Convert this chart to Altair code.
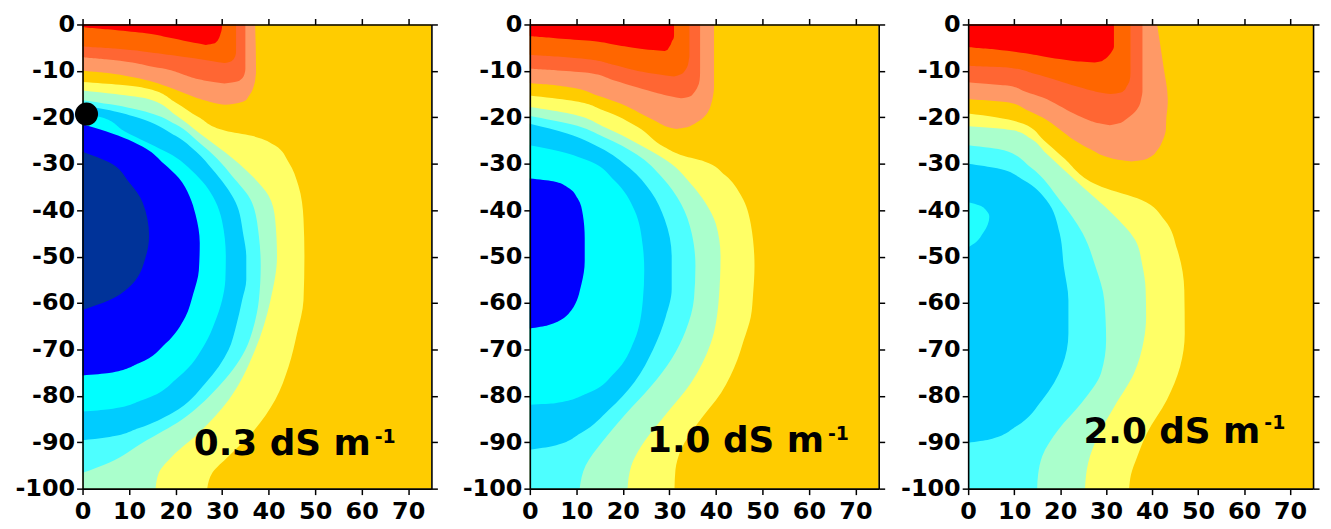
import altair as alt
import pandas as pd

# ---------------- axis ticks ----------------
X_TICKS = [0, 10, 20, 30, 40, 50, 60, 70]
Y_TICKS = [0, -10, -20, -30, -40, -50, -60, -70, -80, -90, -100]
X_DOMAIN = [0, 75]
Y_DOMAIN = [-100, 0]

# ---------------- colours of the contour classes ----------------
COLORS = {
    "red": "#FF0000", "orange": "#FF6600", "tomato": "#FF6633", "salmon": "#FF9966",
    "gold": "#FFCC00", "yellow": "#FFFF66", "mint": "#AAFFCC", "lightcyan": "#4DFFFF",
    "sky": "#00CCFF", "cyan": "#00FFFF", "blue": "#0000FF", "navy": "#003399",
    "pocket": "#22FFFF",
}

# ---------------- panel 1 (0.3 dS m-1) ----------------
p1_salmon = dict(y=[0, -9.9, -10.4, -11.2, -12.1, -13.3, -14.6, -15.6, -16.4, -16.9, -17.3],
                 xl=[0, 0, 5, 10, 14.3, 18, 21.4, 24, 26.4, 28.3, 30.7],
                 xr=[37.1, 37.3, 37.3, 37.2, 37.1, 36.8, 36.3, 35.6, 35, 33.5, 30.7])
p1_tomato = dict(y=[0, -7.0, -7.5, -8.2, -9.0, -9.6, -10.7, -11.8, -12.3, -12.7],
                 xl=[0, 0, 5, 10.7, 14.5, 17.9, 21.5, 25, 27.5, 30.5],
                 xr=[35, 35, 35, 35, 35, 35, 34.8, 34.1, 33.2, 30.5])
p1_orange = dict(y=[0, -4.7, -5.2, -5.8, -6.6, -7.3, -7.9, -8.3],
                 xl=[0, 0, 7, 13, 19, 24, 28, 30.5],
                 xr=[33, 33, 33, 33, 32.9, 32.6, 32, 30.5])
p1_red = dict(y=[0, -0.5, -1.2, -1.9, -2.8, -3.7, -4.1, -4.4],
              xl=[0, 0, 7, 13.6, 18.5, 22.9, 25, 26.5],
              xr=[30, 30, 29.9, 29.7, 29.4, 28.8, 28.2, 26.5])
p1_yellow = dict(y=[-12.4, -13.0, -13.9, -16.8, -20.0, -22.9, -24.0, -26.1, -29.7, -34.7, -41.9, -50,
                    -59.4, -66.6, -73.7, -80.9, -88, -93, -96.6, -100],
                 x=[0, 8, 14.3, 20, 25, 30.7, 36.4, 41.4, 44.3, 46.4, 47.5, 47.7,
                    47.5, 46.1, 44.3, 41.4, 36.4, 31.4, 27.9, 26.8])
p1_mint = dict(y=[-14.2, -15.0, -16.1, -19.5, -23.3, -27.6, -32.6, -36.9, -41.9, -50, -59.4, -70.1,
                  -80.9, -88, -93, -96.6, -100],
               x=[0, 7, 14.3, 20, 25, 30.7, 36.4, 40, 41.4, 41.8, 40.4, 37.1,
                  31.4, 25, 19.3, 16.4, 15.7])
p1_lightcyan = dict(y=[-16.3, -17.2, -19, -21.5, -25.4, -29, -32.6, -38.3, -45.5, -52, -59.4, -65, -70.1,
                       -78.7, -85.1, -90.1, -94.4, -96.6],
                    x=[0, 6, 14.3, 20, 25, 29, 32.1, 36.4, 37.9, 38.3, 37.9, 36.8, 35,
                       28.6, 21.4, 12.9, 5.7, 0])
p1_sky = dict(y=[-17.5, -18.3, -19.7, -24, -27.5, -31.2, -38.3, -45.5, -50, -55, -59.4, -65, -70.1,
                 -77.3, -83.7, -87, -89, -89.6],
              x=[0, 5, 10.7, 20, 24.5, 27.9, 32.9, 34.6, 35.2, 35.2, 34.3, 33, 31.4,
                 26.4, 19.3, 12, 5, 0])
p1_cyan = dict(y=[-19, -20, -23, -25.5, -28.6, -31.5, -34.6, -38, -42.4, -50, -55, -59.4, -64, -68.7,
                  -75.9, -80.9, -82.9, -83.4],
               x=[0, 4, 9, 14, 20, 23.5, 26.4, 28.5, 30, 30.8, 30.7, 30, 28.5, 26.4,
                  20.7, 12.9, 5.7, 0])
p1_blue = dict(y=[-21.5, -23, -26.7, -30, -33.1, -37, -41, -47, -53, -58, -63, -68.7, -73, -75.1, -75.6],
               x=[0, 5, 13.6, 17.5, 20.7, 23, 24.3, 25.2, 25, 23.8, 22.1, 17.9, 12.1, 5.7, 0])
p1_navy = dict(y=[-27.4, -29.7, -34, -38.3, -45.5, -50, -55.9, -59.4, -61.5],
               x=[0, 5.7, 10, 12.9, 14.3, 13.6, 10.7, 5.7, 0])
DOT_X = [0.85]
DOT_Y = [-19.3]

# ---------------- panel 2 (1.0 dS m-1) ----------------
p2_salmon = dict(y=[0, -12.6, -13.0, -13.6, -15.3, -17.1, -19, -20.7, -21.6, -22.2, -22.5],
                 xl=[0, 0, 4.5, 8.9, 14.5, 19.6, 23.5, 26.8, 28.5, 30, 31.5],
                 xr=[39.6, 39.6, 39.6, 39.6, 39.4, 39, 38.2, 36.5, 35, 33.5, 31.5])
p2_tomato = dict(y=[0, -9.5, -9.9, -10.4, -12, -13.6, -14.8, -15.5, -15.9],
                 xl=[0, 0, 6, 12.5, 18, 23.2, 27.5, 30.5, 32.5],
                 xr=[36.6, 36.6, 36.6, 36.6, 36.5, 36, 35.2, 34.4, 32.5])
p2_orange = dict(y=[0, -6.5, -6.9, -7.5, -8.7, -10, -10.7, -11.2],
                 xl=[0, 0, 6, 12.5, 18, 23.2, 27.5, 31],
                 xr=[34.3, 34.3, 34.3, 34.2, 34, 33.3, 32.5, 31])
p2_red = dict(y=[0, -2.45, -3.0, -3.5, -4.3, -5.1, -5.5, -5.7],
              xl=[0, 0, 6, 13, 18, 23, 26.5, 29],
              xr=[31, 31, 30.9, 30.6, 30.3, 29.8, 29.5, 29])
p2_yellow = dict(y=[-15.3, -16.4, -18.6, -22.1, -26.4, -28.3, -29.5, -32.5, -37, -43, -52, -58, -63, -68,
                    -72.3, -79.4, -85.9, -91.6, -96, -100],
                 x=[0, 8.9, 16, 23.2, 28.9, 33, 37.5, 42, 45.5, 47.5, 48.3, 48, 47.5, 46,
                    44.6, 41.1, 36.1, 32.5, 31.3, 31.1])
p2_mint = dict(y=[-17.8, -19.3, -22.1, -25.7, -30, -34.3, -38.5, -43, -50, -59.4, -68.7, -77.3, -84.4,
                  -90.9, -95.1, -100],
               x=[0, 8.9, 16, 23.2, 30.4, 34.6, 37.8, 40, 41, 40.6, 38.9, 34.6, 28.9,
                  23.9, 21.8, 21])
p2_lightcyan = dict(y=[-19.7, -21.5, -24.3, -28, -33, -38.6, -45, -52, -59, -66, -72, -78, -84, -90, -95, -100],
                    x=[0, 8.9, 16, 23, 28.5, 32.5, 34.8, 35.6, 35.3, 33.5, 30.5, 26, 20.5, 15.5, 12, 10.7])
p2_sky = dict(y=[-21.4, -23.5, -26.5, -31, -36, -42, -50, -57, -63, -70, -77, -83, -88, -90.8, -91.6],
              x=[0, 8, 15, 21.5, 26, 29, 30.5, 30.5, 29.2, 26.5, 22.5, 17, 11, 5, 0])
p2_cyan = dict(y=[-26, -27.1, -29.3, -33.6, -40, -47.9, -53, -59.4, -68, -75.1, -79.4, -81.6, -81.9],
               x=[0, 5.4, 12.5, 18.2, 22.5, 24.3, 24.6, 24.3, 22.5, 18.2, 12.5, 5.4, 0])
p2_blue = dict(y=[-33.2, -33.8, -35, -37.5, -41, -46, -51, -55.9, -61.6, -64.8, -65.5],
               x=[0, 5, 8, 10.3, 11.4, 11.8, 11.8, 11.1, 8.9, 3.9, 0])

# ---------------- panel 3 (2.0 dS m-1) ----------------
p3_salmon = dict(y=[0, -2, -9.2, -16, -16.4, -16.8, -18.3, -20, -22.5, -25, -27, -28.6, -29.2, -29.5],
                 xl=[0, 0, 0, 0, 4.5, 8.9, 12.5, 16.1, 19.8, 23.2, 26.8, 30.4, 33, 35.5],
                 xr=[41.1, 41.4, 42.5, 43.4, 43.4, 43.4, 43.3, 43.1, 43, 42.3, 41.2, 39.5, 38, 35.5])
p3_tomato = dict(y=[0, -12.4, -12.8, -13.2, -14.5, -15.7, -17.5, -19.3, -20.5, -21.3, -21.7],
                 xl=[0, 0, 4.5, 8.9, 12.5, 16.1, 19.8, 23.2, 26, 28.5, 30.8],
                 xr=[37.9, 37.9, 37.9, 37.9, 37.9, 37.7, 37.2, 35.8, 34.2, 32.8, 30.8])
p3_orange = dict(y=[0, -8.9, -9.3, -10.5, -12.1, -13.3, -14.2, -14.7, -15],
                 xl=[0, 0, 8.9, 14, 19.6, 23.5, 26.8, 29, 31],
                 xr=[35.3, 35.3, 35.3, 35.3, 35.1, 34.5, 33.9, 33, 31])
p3_red = dict(y=[0, -4.8, -5.4, -6.2, -7.0, -7.6, -8.0, -8.2],
              xl=[0, 0, 6, 12.5, 17, 21, 24.5, 27.5],
              xr=[31.7, 31.7, 31.5, 31, 30.3, 29.5, 28.7, 27.5])
p3_yellow = dict(y=[-19.2, -20.0, -21.4, -25, -28.6, -35, -37.8, -42.1, -48.6, -57.2, -66.6, -73.7, -80.9,
                    -88, -93, -97, -100],
                 x=[0, 6, 12, 16.5, 20.6, 29.1, 37.7, 42.7, 45.5, 47, 47.1, 46.1, 43.2,
                    38.9, 36.8, 35.4, 35])
p3_mint = dict(y=[-21.9, -22.8, -24.5, -27.8, -35, -40.7, -46.4, -52, -57.2, -63, -68, -75.1, -82.3,
                  -88.7, -94.4, -100],
               x=[0, 9.9, 13.5, 17, 24.9, 31.3, 36.3, 37.9, 38.6, 38.7, 38.2, 36.1, 31.8,
                  28.2, 26.1, 25.4])
p3_lightcyan = dict(y=[-26, -27.1, -30.7, -37.8, -45, -52.2, -59.4, -68, -75.1, -81.6, -87.3, -93, -97, -100],
                    x=[0, 7.8, 13.5, 19.9, 24.9, 27.7, 29.6, 30, 28.9, 24.6, 19.6, 16.1, 15.2, 15])
p3_sky = dict(y=[-30, -31, -33.5, -37.8, -45, -52.2, -59.4, -66.6, -73.7, -80.9, -86.6, -89.4, -90.1],
              x=[0, 6.3, 12, 17, 19.9, 20.8, 21.8, 21.8, 20.4, 16.1, 10.4, 4.6, 0])
p3_pocket = dict(y=[-38.3, -39, -40, -41.4, -43, -45, -46.8, -48],
                 x=[0, 2.5, 3.9, 4.6, 4.3, 3.2, 1.8, 0])

# ---------------- annotations ----------------
LABELS = ["0.3 dS m", "1.0 dS m", "2.0 dS m"]
SUPERSCRIPT = "-1"

xs = alt.Scale(domain=X_DOMAIN, nice=False, zero=False)
ys = alt.Scale(domain=Y_DOMAIN, nice=False, zero=False)


def band(d, color):
    y = d["y"]
    xr = d["xr"] if "xr" in d else d["x"]
    xl = d["xl"] if "xl" in d else [0] * len(y)
    df = pd.DataFrame({"y": y, "xl": xl, "xr": xr})
    return alt.Chart(df).mark_area(
        orient="horizontal", interpolate="monotone", color=COLORS[color], opacity=1
    ).encode(
        y=alt.Y("y:Q", scale=ys, axis=None),
        x=alt.X("xr:Q", scale=xs, axis=None),
        x2="xl:Q",
    )


def axes_layers(left_extent):
    frame = pd.DataFrame({"x": X_DOMAIN, "y": Y_DOMAIN})
    main = alt.Chart(frame).mark_point(opacity=0).encode(
        x=alt.X("x:Q", scale=xs, axis=alt.Axis(
            orient="bottom", values=X_TICKS, title=None, zindex=2, tickSize=6,
            labelPadding=5, labelFlush=False, labelOverlap=False, format="d")),
        y=alt.Y("y:Q", scale=ys, axis=alt.Axis(
            orient="left", values=Y_TICKS, title=None, zindex=2, tickSize=6,
            labelPadding=2, labelExpr="toString(datum.value)", labelFlush=False,
            labelOverlap=False, minExtent=left_extent, maxExtent=left_extent)),
    )
    mirror = alt.Chart(frame).mark_point(opacity=0).encode(
        x=alt.X("x:Q", scale=xs, axis=alt.Axis(
            orient="top", values=X_TICKS, title=None, labels=False, zindex=2,
            tickSize=6, minExtent=6, maxExtent=6)),
        y=alt.Y("y:Q", scale=ys, axis=alt.Axis(
            orient="right", values=Y_TICKS, title=None, labels=False, zindex=2,
            tickSize=6, minExtent=6, maxExtent=6)),
    )
    return [main, mirror]


def label_layers(text, tx, ty, sx, sy):
    df = pd.DataFrame({"t": [text], "s": [SUPERSCRIPT]})
    main = alt.Chart(df).mark_text(
        align="left", baseline="alphabetic", font="DejaVu Sans", fontWeight="bold",
        fontSize=36, color="black"
    ).encode(text="t:N", x=alt.value(tx), y=alt.value(ty))
    sup = alt.Chart(df).mark_text(
        align="left", baseline="alphabetic", font="DejaVu Sans", fontWeight="bold",
        fontSize=19, color="black"
    ).encode(text="s:N", x=alt.value(sx), y=alt.value(sy))
    return [main, sup]


def panel(warm, cool, label, lpos, width, left_extent, dot=False):
    layers = []
    for name, d in cool:
        layers.append(band(d, name))
    for name, d in warm:
        layers.append(band(d, name))
    layers += axes_layers(left_extent)
    if dot:
        layers.append(
            alt.Chart(pd.DataFrame({"x": DOT_X, "y": DOT_Y})).mark_point(
                filled=True, size=540, color="black", opacity=1
            ).encode(x=alt.X("x:Q", scale=xs, axis=None), y=alt.Y("y:Q", scale=ys, axis=None))
        )
    layers += label_layers(label, *lpos)
    return alt.layer(*layers).resolve_axis(x="independent", y="independent").properties(
        width=width, height=467
    )


warm1 = [("salmon", p1_salmon), ("tomato", p1_tomato), ("orange", p1_orange), ("red", p1_red)]
cool1 = [("yellow", p1_yellow), ("mint", p1_mint), ("lightcyan", p1_lightcyan), ("sky", p1_sky),
         ("cyan", p1_cyan), ("blue", p1_blue), ("navy", p1_navy)]
warm2 = [("salmon", p2_salmon), ("tomato", p2_tomato), ("orange", p2_orange), ("red", p2_red)]
cool2 = [("yellow", p2_yellow), ("mint", p2_mint), ("lightcyan", p2_lightcyan), ("sky", p2_sky),
         ("cyan", p2_cyan), ("blue", p2_blue)]
warm3 = [("salmon", p3_salmon), ("tomato", p3_tomato), ("orange", p3_orange), ("red", p3_red)]
cool3 = [("yellow", p3_yellow), ("mint", p3_mint), ("lightcyan", p3_lightcyan), ("sky", p3_sky),
         ("pocket", p3_pocket)]

c1 = panel(warm1, cool1, LABELS[0], (112, 433, 294, 421), 351, 70, dot=True)
c2 = panel(warm2, cool2, LABELS[1], (118, 430, 300, 418), 351, 79)
c3 = panel(warm3, cool3, LABELS[2], (116, 421, 298, 407), 347, 70)

chart = alt.hconcat(c1, c2, c3, spacing=13).properties(
    padding={"left": 5, "top": 3, "right": 3, "bottom": 0}
).configure_view(
    fill=COLORS["gold"], stroke=None
).configure_axis(
    labelFont="DejaVu Sans", labelFontWeight="bold", labelFontSize=24, labelColor="black",
    tickColor="black", tickWidth=1.5, domainColor="black", domainWidth=1.6, grid=False,
)

chart.save("out.html", embed_options={"renderer": "svg", "actions": False})
